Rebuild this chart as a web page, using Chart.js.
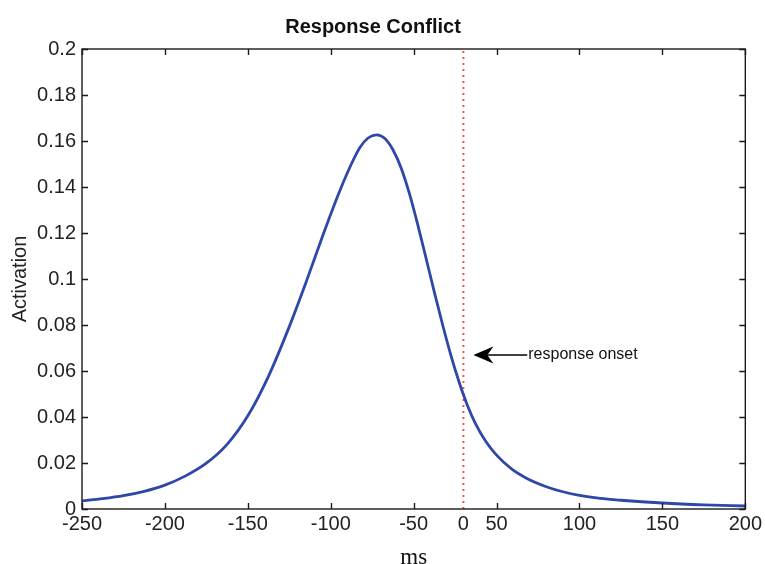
<!DOCTYPE html>
<html>
<head>
<meta charset="utf-8">
<script src="https://cdn.jsdelivr.net/npm/chart.js"></script>
<style>
  body { margin: 0; background: #fff; }
  #wrap { width: 765px; height: 564px; }
</style>
</head>
<body>
<div id="wrap"><canvas id="chart" width="765" height="564"></canvas></div>
<script>
// x positions are in tick slots (the figure's ticks are evenly spaced, labels are not)
const xTickPos = [0, 1, 2, 3, 4, 4.6, 5, 6, 7, 8];
const xTickLabels = ["-250", "-200", "-150", "-100", "-50", "0", "50", "100", "150", "200"];
const yTickPos = [0, 0.02, 0.04, 0.06, 0.08, 0.1, 0.12, 0.14, 0.16, 0.18, 0.2];
const yTickLabels = ["0", "0.02", "0.04", "0.06", "0.08", "0.1", "0.12", "0.14", "0.16", "0.18", "0.2"];

const curveX = [0, 0.25, 0.5, 0.75, 1.0, 1.25, 1.5, 1.75, 2.0, 2.25, 2.5, 2.71, 2.9, 3.1, 3.25, 3.35,
  3.45, 3.55, 3.65, 3.75, 3.85, 3.95, 4.05, 4.15, 4.25, 4.35, 4.45, 4.55, 4.65, 4.75, 4.875, 5.0,
  5.18, 5.36, 5.6, 5.8, 6.0, 6.25, 6.5, 7.0, 7.5, 8.0];
const curveY = [0.0035, 0.0045, 0.0058, 0.0077, 0.0104, 0.0144, 0.0199, 0.0281, 0.0405, 0.0578,
  0.0793, 0.0994, 0.1185, 0.1375, 0.1501, 0.1571, 0.1613, 0.1627, 0.1612, 0.1562, 0.1482, 0.1370,
  0.1235, 0.1090, 0.0942, 0.0800, 0.0667, 0.0550, 0.0449, 0.0368, 0.0291, 0.0234, 0.0174, 0.0134,
  0.0097, 0.0075, 0.0059, 0.0046, 0.0038, 0.0026, 0.0018, 0.0013];

const onsetX = 4.6;          // red dotted line ("0")
const noteText = "response onset";
const noteY = 0.067;
const arrowFrom = 5.37;
const arrowTo = 4.72;

const sans = "'Liberation Sans', Arial, sans-serif";

// box round the plot, inward ticks, and the arrow note
const frameAndNote = {
  id: "frameAndNote",
  afterDatasetsDraw(chart) {
    const { ctx, chartArea: a, scales: { x, y } } = chart;
    ctx.save();
    ctx.strokeStyle = "#1a1a1a";
    ctx.lineWidth = 1.4;
    ctx.strokeRect(a.left, a.top, a.right - a.left, a.bottom - a.top);

    ctx.beginPath();
    xTickPos.forEach((v) => {
      if (v === onsetX) return;
      const px = Math.round(x.getPixelForValue(v)) + 0.5;
      ctx.moveTo(px, a.bottom); ctx.lineTo(px, a.bottom - 6);
      ctx.moveTo(px, a.top); ctx.lineTo(px, a.top + 6);
    });
    yTickPos.forEach((v) => {
      const py = Math.round(y.getPixelForValue(v)) + 0.5;
      ctx.moveTo(a.left, py); ctx.lineTo(a.left + 6, py);
      ctx.moveTo(a.right, py); ctx.lineTo(a.right - 6, py);
    });
    ctx.stroke();

    // arrow
    const ty = y.getPixelForValue(noteY);
    const tx = x.getPixelForValue(arrowTo);
    const fx = x.getPixelForValue(arrowFrom);
    ctx.strokeStyle = "#000";
    ctx.lineWidth = 1.5;
    ctx.beginPath();
    ctx.moveTo(tx + 12, ty);
    ctx.lineTo(fx, ty);
    ctx.stroke();
    ctx.fillStyle = "#000";
    ctx.beginPath();
    ctx.moveTo(tx, ty);
    ctx.lineTo(tx + 20, ty - 8.5);
    ctx.lineTo(tx + 14, ty);
    ctx.lineTo(tx + 20, ty + 8.5);
    ctx.closePath();
    ctx.fill();

    ctx.font = "16px " + sans;
    ctx.fillStyle = "#111";
    ctx.textBaseline = "middle";
    ctx.textAlign = "left";
    ctx.fillText(noteText, fx + 1, ty);
    ctx.restore();
  }
};

new Chart(document.getElementById("chart"), {
  type: "line",
  data: {
    datasets: [
      {
        label: "Activation",
        data: curveX.map((v, i) => ({ x: v, y: curveY[i] })),
        borderColor: "#2e47a8",
        borderWidth: 2.8,
        pointRadius: 0,
        cubicInterpolationMode: "monotone",
        order: 1,
      },
      {
        label: "onset",
        data: [{ x: onsetX, y: 0 }, { x: onsetX, y: 0.2 }],
        borderColor: "#f5573a",
        borderWidth: 2,
        borderDash: [2, 4],
        pointRadius: 0,
        order: 2,
      },
    ],
  },
  plugins: [frameAndNote],
  options: {
    responsive: false,
    animation: false,
    layout: { padding: { left: 0, right: 19, top: 0, bottom: 0 } },
    plugins: {
      legend: { display: false },
      tooltip: { enabled: false },
      title: {
        display: true,
        text: "Response Conflict",
        color: "#111",
        font: { family: sans, size: 20, weight: "bold" },
        padding: { top: 15, bottom: 10 },
      },
    },
    scales: {
      x: {
        type: "linear",
        min: 0,
        max: 8,
        grid: { display: false, drawTicks: false },
        border: { display: false },
        afterBuildTicks: (scale) => { scale.ticks = xTickPos.map((v) => ({ value: v })); },
        afterFit: (scale) => { scale.height = 55; },
        ticks: {
          autoSkip: false,
          maxRotation: 0,
          padding: 3,
          color: "#222",
          font: { family: sans, size: 20 },
          callback: (v, i) => xTickLabels[i],
        },
        title: {
          display: true,
          text: "ms",
          color: "#111",
          font: { family: "'Liberation Serif', 'Times New Roman', serif", size: 23, lineHeight: 0.55 },
          padding: { top: 0, bottom: 0 },
        },
      },
      y: {
        min: 0,
        max: 0.2,
        grid: { display: false, drawTicks: false },
        border: { display: false },
        afterBuildTicks: (scale) => { scale.ticks = yTickPos.map((v) => ({ value: v })); },
        afterFit: (scale) => { scale.width = 82; },
        ticks: {
          padding: 6,
          color: "#222",
          font: { family: sans, size: 20 },
          callback: (v, i) => yTickLabels[i],
        },
        title: {
          display: true,
          text: "Activation",
          color: "#222",
          font: { family: sans, size: 20 },
          padding: { top: 8, bottom: 0 },
        },
      },
    },
  },
});
</script>
</body>
</html>
